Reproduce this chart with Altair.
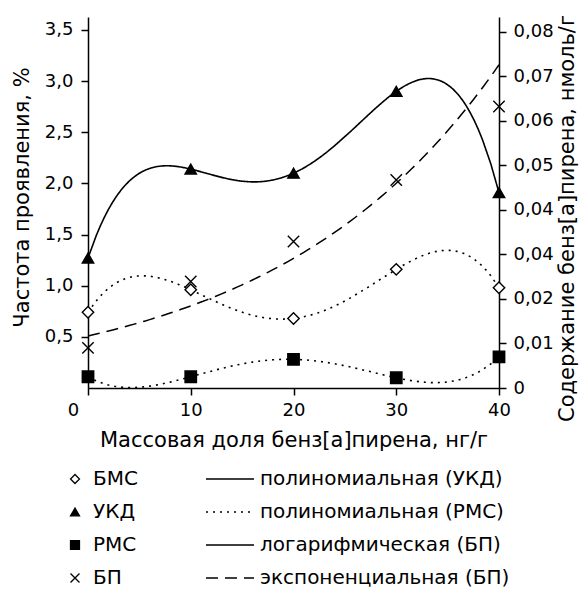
import altair as alt
import pandas as pd

# ---- data ----
x_vals = [0, 10, 20, 30, 40]
bms = [0.74, 0.96, 0.68, 1.16, 0.98]        # БМС, %
ukd = [1.27, 2.14, 2.10, 2.90, 1.91]        # УКД, %
rms = [0.11, 0.11, 0.28, 0.10, 0.305]       # РМС, %
bp = [0.0090, 0.0239, 0.0329, 0.0467, 0.0632]  # БП, нмоль/г

series_names = ["БМС", "УКД", "РМС", "БП"]
fit_names = ["полиномиальная (УКД)", "полиномиальная (РМС)",
             "логарифмическая (БП)", "экспоненциальная (БП)"]

left_ticks = [0.5, 1.0, 1.5, 2.0, 2.5, 3.0, 3.5]
right_ticks = [0, 0.01, 0.02, 0.03, 0.04, 0.05, 0.06, 0.07, 0.08]

left_df = pd.DataFrame({
    "x": x_vals * 3,
    "y": bms + ukd + rms,
    "series": ["БМС"] * 5 + ["УКД"] * 5 + ["РМС"] * 5,
})
right_df = pd.DataFrame({"x": x_vals, "y": bp, "series": ["БП"] * 5})

FONT = "DejaVu Sans"


def x_enc(field):
    return alt.X(
        field,
        scale=alt.Scale(domain=[0, 40], nice=False),
        axis=alt.Axis(
            values=x_vals, title="Массовая доля бенз[а]пирена, нг/г", format="d",
            labelFlush=False,
            labelOffset={"condition": {"test": "datum.value === 0", "value": -15}, "value": 0},
            labelPadding=6, titleY=52, titleBaseline="middle",
        ),
    )


def yl_enc(field):
    return alt.Y(
        field,
        scale=alt.Scale(domain=[0, 3.627], nice=False),
        axis=alt.Axis(
            values=left_ticks, orient="left", title="Частота проявления, %",
            labelExpr="replace(format(datum.value, '.1f'), '.', ',')", labelFlush=False,
            labelPadding=8, titleX=-66, titleY=180, titleBaseline="middle",
        ),
    )


def yr_enc(field):
    return alt.Y(
        field,
        scale=alt.Scale(domain=[0, 0.0833], nice=False),
        axis=alt.Axis(
            values=right_ticks, orient="right", title="Содержание бенз[а]пирена, нмоль/г",
            labelExpr="datum.value < 0.001 ? '0' : (abs(datum.value - 0.03) < 0.001 ? '0,04' : replace(format(datum.value, '.2f'), '.', ','))",
            labelFlush=False,
            labelPadding=7, titleAngle=270, titleX=68, titleY=201, titleBaseline="middle",
        ),
    )


shape_legend = alt.Legend(
    title=None, orient="none", legendX=-23, legendY=452,
    symbolSize=80, symbolStrokeWidth=1.3,
    labelFontSize=20, labelFont=FONT, labelColor="black", rowPadding=13,
    labelOffset=8, labelLimit=400,
)
shape_enc = alt.Shape(
    "series:N",
    scale=alt.Scale(domain=series_names,
                    range=["diamond", "triangle-up", "square", "M-1,-1L1,1M-1,1L1,-1"]),
    legend=shape_legend,
)
fill_enc = alt.Fill(
    "series:N",
    scale=alt.Scale(domain=series_names, range=["white", "black", "black", "transparent"]),
    legend=shape_legend,
)
stroke_enc = alt.Stroke(
    "series:N",
    scale=alt.Scale(domain=series_names, range=["black", "black", "black", "black"]),
    legend=shape_legend,
)
dash_enc = alt.StrokeDash(
    "fit:N",
    scale=alt.Scale(domain=fit_names, range=[[1, 0], [2, 5], [1, 0], [12, 7]]),
    legend=alt.Legend(
        title=None, orient="none", legendX=132, legendY=452,
        symbolType="M-4,0L4,0", symbolSize=144, symbolStrokeColor="black",
        symbolStrokeWidth=1.5,
        labelFontSize=20, labelFont=FONT, labelColor="black", rowPadding=13,
        labelOffset=20, labelLimit=400,
    ),
)

# polynomial (4th order) trend lines through the % series
poly = alt.Chart(left_df).transform_regression(
    "x", "y", method="poly", order=4, groupby=["series"]
).transform_calculate(
    fit="datum.series === 'УКД' ? 'полиномиальная (УКД)' : 'полиномиальная (РМС)'"
).mark_line(color="black", strokeWidth=1.6).encode(
    x=x_enc("x:Q"), y=yl_enc("y:Q"), strokeDash=dash_enc, detail="series:N"
)
pts_left = alt.Chart(left_df).mark_point(
    filled=True, strokeWidth=1.4, size=130, opacity=1
).encode(x=x_enc("x:Q"), y=yl_enc("y:Q"), shape=shape_enc, fill=fill_enc, stroke=stroke_enc)

# exponential trend line (least squares on ln y) for БП
expo = alt.Chart(right_df).transform_calculate(
    ly="log(datum.y)"
).transform_joinaggregate(
    mx="mean(x)", my="mean(ly)"
).transform_calculate(
    sxy="(datum.x - datum.mx) * (datum.ly - datum.my)",
    sxx="(datum.x - datum.mx) * (datum.x - datum.mx)",
).transform_joinaggregate(
    Sxy="sum(sxy)", Sxx="sum(sxx)"
).transform_calculate(
    b="datum.Sxy / datum.Sxx"
).transform_calculate(
    a="datum.my - datum.b * datum.mx"
).transform_filter(
    "datum.x === 0"
).transform_calculate(
    xs="sequence(0, 40.25, 0.5)"
).transform_flatten(
    ["xs"]
).transform_calculate(
    yfit="exp(datum.a + datum.b * datum.xs)", fit="'экспоненциальная (БП)'"
).mark_line(color="black", strokeWidth=1.5).encode(
    x=x_enc("xs:Q"), y=yr_enc("yfit:Q"), strokeDash=dash_enc
)
pts_right = alt.Chart(right_df).mark_point(
    filled=True, strokeWidth=1.4, size=130, opacity=1
).encode(x=x_enc("x:Q"), y=yr_enc("y:Q"), shape=shape_enc, fill=fill_enc, stroke=stroke_enc)

left = alt.layer(poly, pts_left)
right = alt.layer(expo, pts_right)

chart = alt.layer(left, right).resolve_scale(y="independent").properties(
    width=411, height=371,
    autosize=alt.AutoSizeParams(type="none"),
    padding={"left": 80, "top": 9, "right": 81, "bottom": 200},
).configure_view(strokeWidth=0).configure_axis(
    grid=False, domainColor="black", domainWidth=1.5, tickColor="black", tickWidth=1.5,
    tickSize=7, labelColor="black", titleColor="black", labelFont=FONT,
    titleFont=FONT, labelFontSize=18, titleFontSize=21, titleFontWeight="normal",
).configure_legend(padding=0)

chart.save("out.html", embed_options={"renderer": "svg", "actions": False})
